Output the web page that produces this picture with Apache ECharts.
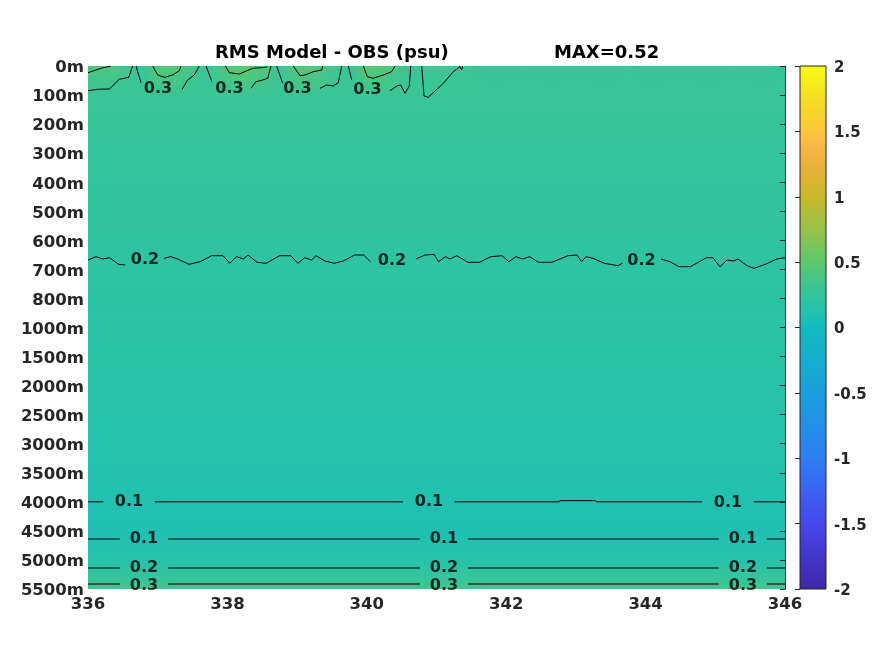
<!DOCTYPE html>
<html>
<head>
<meta charset="utf-8">
<script src="https://cdn.jsdelivr.net/npm/echarts@6/dist/echarts.min.js"></script>
<style>
html,body{margin:0;padding:0;background:#fff;}
#chart{width:875px;height:656px;}
</style>
</head>
<body>
<div id="chart"></div>
<script>
// ---------------- data ----------------
const depthLabels = ['0m','100m','200m','300m','400m','500m','600m','700m','800m','1000m',
  '1500m','2000m','2500m','3000m','3500m','4000m','4500m','5000m','5500m'];

// longitudes of the surface (0m) samples
const surfLon = [336,336.25,336.5,336.75,337,337.25,337.5,337.75,338,338.25,338.5,338.75,
  339,339.25,339.5,339.75,340,340.25,340.5,340.75,341,341.25,341.5,341.75,342,342.25,342.5,
  342.75,343,343.25,343.5,343.75,344,344.25,344.5,344.75,345,345.25,345.5,345.75,346];
// RMS at 0m along longitude (psu)
const rmsSurface = [0.38,0.40,0.35,0.27,0.44,0.45,0.34,0.27,0.44,0.50,0.43,0.27,
  0.45,0.44,0.34,0.27,0.47,0.44,0.34,0.27,0.33,0.31,0.28,0.27,0.27,0.28,0.27,
  0.27,0.28,0.27,0.27,0.28,0.27,0.27,0.28,0.27,0.27,0.28,0.27,0.27,0.28];
// RMS profile from 100m to 5500m (psu)
const rmsProfile = [0.29,0.275,0.26,0.245,0.232,0.218,0.195,0.182,0.172,0.162,
  0.152,0.142,0.132,0.118,0.100,0.085,0.13,0.34];

const colorbarTicks = [-2,-1.5,-1,-0.5,0,0.5,1,1.5,2];
const maxValue = 0.52;

// contour polylines: [lon, depth index]
const contour03Top = [
  [[336.0,0.231],[336.187,0.079],[336.330,0]],
  [[336.0,0.850],[336.139,0.802],[336.306,0.792],[336.449,0.458],[336.584,0.389],[336.641,0]],
  [[336.689,0],[336.760,0.575]],
  [[337.349,0.802],[337.430,0.482],[337.525,0.310],[337.597,0]],
  [[336.928,0],[337.0,0.310],[337.095,0.389],[337.215,0.310],[337.310,0.162],[337.334,0]],
  [[337.693,0],[337.779,0.540]],
  [[337.970,0],[338.027,0.231],[338.171,0.275],[338.363,0.079],[338.554,0.045],[338.578,0]],
  [[338.339,0.767],[338.410,0.540],[338.506,0.482],[338.578,0.423],[338.626,0]],
  [[338.707,0],[338.793,0.595]],
  [[338.945,0],[339.042,0.334],[339.113,0.310],[339.232,0.196],[339.353,0.138],[339.367,0]],
  [[339.329,0.767],[339.425,0.654],[339.519,0.688],[339.591,0.575],[339.640,0]],
  [[339.735,0],[339.783,0.482]],
  [[339.950,0],[340.007,0.368],[340.093,0.423],[340.237,0.310],[340.357,0.196],[340.405,0]],
  [[340.333,0.850],[340.429,0.688],[340.486,0.654],[340.548,0.940],[340.610,0.688],[340.630,0]],
  [[340.788,0],[340.821,1.032],[340.882,1.077],[341.098,0.595],[341.241,0.196],[341.337,0.024],[341.361,0.138],[341.376,0]]
];
const contour02Mid = [
  [[336.0,6.677],[336.115,6.563],[336.211,6.642],[336.308,6.598],[336.439,6.825],[336.537,6.849]],
  [[337.090,6.618],[337.188,6.563],[337.286,6.642],[337.449,6.825],[337.611,6.735],[337.773,6.529],
   [337.937,6.529],[338.034,6.790],[338.132,6.563],[338.230,6.642],[338.296,6.505],[338.425,6.756],
   [338.554,6.790],[338.750,6.529],[338.912,6.529],[339.011,6.790],[339.109,6.598],[339.207,6.677],
   [339.271,6.529],[339.400,6.711],[339.532,6.790],[339.663,6.711],[339.825,6.505],[339.956,6.505],
   [340.053,6.735]],
  [[340.706,6.642],[340.835,6.505],[340.964,6.481],[341.030,6.735],[341.128,6.563],[341.194,6.642],
   [341.291,6.529],[341.452,6.756],[341.617,6.756],[341.779,6.563],[341.940,6.529],[342.040,6.735],
   [342.138,6.563],[342.235,6.642],[342.333,6.563],[342.463,6.756],[342.657,6.756],[342.887,6.529],
   [343.016,6.505],[343.082,6.735],[343.145,6.563],[343.245,6.618],[343.407,6.790],[343.604,6.873],
   [343.667,6.790]],
  [[344.221,6.642],[344.350,6.735],[344.479,6.907],[344.644,6.907],[344.872,6.598],[344.967,6.598],
   [345.067,6.907],[345.168,6.677],[345.263,6.711],[345.326,6.642],[345.455,6.873],[345.555,6.963],
   [345.719,6.825],[345.882,6.642],[346.0,6.598]]
];
const contour01Upper = [
  [[336.0,15],[336.22,15]],
  [[336.96,15],[340.52,15]],
  [[341.26,15],[342.76,15],[342.77,14.96],[343.28,14.96],[343.30,15],[344.81,15]],
  [[345.55,15],[346.0,15]]
];
const contour01Lower = [
  [[336.0,16.279],[336.46,16.279]],[[337.15,16.279],[340.76,16.279]],
  [[341.45,16.279],[345.05,16.279]],[[345.74,16.279],[346.0,16.279]]
];
const contour02Deep = [
  [[336.0,17.277],[336.46,17.277]],[[337.15,17.277],[340.76,17.277]],
  [[341.45,17.277],[345.05,17.277]],[[345.74,17.277],[346.0,17.277]]
];
const contour03Deep = [
  [[336.0,17.828],[336.46,17.828]],[[337.15,17.828],[340.76,17.828]],
  [[341.45,17.828],[345.05,17.828]],[[345.74,17.828],[346.0,17.828]]
];
// contour labels: [lon, depth index, text]
const contourLabels = [
  [337.004,0.78,'0.3'],[338.030,0.78,'0.3'],[339.006,0.80,'0.3'],[340.010,0.83,'0.3'],
  [336.818,6.66,'0.2'],[340.362,6.70,'0.2'],[343.941,6.70,'0.2'],
  [336.588,15.0,'0.1'],[340.892,15.0,'0.1'],[345.182,15.02,'0.1'],
  [336.803,16.279,'0.1'],[341.108,16.279,'0.1'],[345.397,16.279,'0.1'],
  [336.803,17.277,'0.2'],[341.108,17.277,'0.2'],[345.397,17.277,'0.2'],
  [336.803,17.88,'0.3'],[341.108,17.88,'0.3'],[345.397,17.88,'0.3']
];

// ---------------- colormap (parula-like) ----------------
const parulaStops = [
  [-2,'#3e26a8'],[-1.5,'#4746eb'],[-1,'#2e7ef4'],[-0.5,'#1a9fdc'],[0,'#12bbc0'],
  [0.1,'#22c1b0'],[0.2,'#2ec4a2'],[0.3,'#3ac596'],[0.5,'#5dc86c'],[0.75,'#97c24a'],
  [1,'#c9b92a'],[1.25,'#ecb13c'],[1.4,'#fbb847'],[1.5,'#fdc63a'],[1.75,'#f3df22'],[2,'#f9fb15']
];
function hexRgb(h){return [parseInt(h.slice(1,3),16),parseInt(h.slice(3,5),16),parseInt(h.slice(5,7),16)];}
function cmap(v, a){
  if (a === undefined) a = 1;
  v = Math.max(-2, Math.min(2, v));
  for (let i=0;i<parulaStops.length-1;i++){
    const s0=parulaStops[i], s1=parulaStops[i+1];
    if (v>=s0[0] && v<=s1[0]){
      const t=(v-s0[0])/(s1[0]-s0[0]);
      const c0=hexRgb(s0[1]), c1=hexRgb(s1[1]);
      const c=c0.map((x,k)=>Math.round(x+(c1[k]-x)*t));
      return 'rgba('+c[0]+','+c[1]+','+c[2]+','+a+')';
    }
  }
  return 'rgba(0,0,0,'+a+')';
}

// field cells: [lon0, lon1, row0, row1, vTopLeft, vTopRight, vBottom]
const fieldCells = [];
for (let j=0;j<surfLon.length-1;j++){
  fieldCells.push([surfLon[j],surfLon[j+1],0,1,rmsSurface[j],rmsSurface[j+1],rmsProfile[0]]);
}
for (let i=1;i<depthLabels.length-1;i++){
  fieldCells.push([336,346,i,i+1,rmsProfile[i-1],rmsProfile[i-1],rmsProfile[i]]);
}

const FONT = 'DejaVu Sans';
const AXC = '#262626';

function contourSeries(segs){
  return {
    type:'lines', coordinateSystem:'cartesian2d', xAxisIndex:0, yAxisIndex:0,
    polyline:true, silent:true, z:3,
    lineStyle:{color:'#000', width:1, opacity:1},
    data: segs.map(s=>({coords:s}))
  };
}

const chart = echarts.init(document.getElementById('chart'), null, {renderer:'canvas'});
const option = {
  animation:false,
  backgroundColor:'#fff',
  title:[
    {text:'RMS Model - OBS (psu)', left:215, top:44, padding:0,
     textStyle:{fontFamily:FONT, fontSize:18, fontWeight:'bold', color:'#000'}},
    {text:'MAX='+maxValue.toFixed(2), left:554, top:44, padding:0,
     textStyle:{fontFamily:FONT, fontSize:18, fontWeight:'bold', color:'#000'}}
  ],
  grid:[
    {left:88, top:66, width:697, height:523},
    {left:800, top:66, width:26, height:523}
  ],
  xAxis:[
    {type:'value', gridIndex:0, min:336, max:346, interval:2,
     axisLine:{show:false}, axisTick:{show:false}, splitLine:{show:false},
     axisLabel:{fontFamily:FONT, fontSize:16.5, fontWeight:'bold', color:AXC, margin:7}},
    {type:'value', gridIndex:1, min:0, max:1, show:false}
  ],
  yAxis:[
    {type:'value', gridIndex:0, min:0, max:18, interval:1, inverse:true,
     axisLine:{show:false}, axisTick:{show:false}, splitLine:{show:false},
     axisLabel:{fontFamily:FONT, fontSize:16.5, fontWeight:'bold', color:AXC, margin:4,
       verticalAlign:'top', lineHeight:4, formatter:v=>depthLabels[Math.round(v)]}},
    {type:'value', gridIndex:0, min:0, max:18, interval:1, inverse:true, position:'right', z:10,
     axisLine:{show:true, lineStyle:{color:AXC, width:1}},
     axisTick:{show:true, inside:true, length:5, lineStyle:{color:AXC}},
     axisLabel:{show:false}, splitLine:{show:false}},
    {type:'value', gridIndex:1, min:-2, max:2, interval:0.5, position:'right', z:10,
     axisLine:{show:false},
     axisTick:{show:true, inside:true, length:5, lineStyle:{color:AXC}},
     axisLabel:{fontFamily:FONT, fontSize:15, fontWeight:'bold', color:AXC, margin:8,
       verticalAlign:'top', lineHeight:4, formatter:v=>String(v)},
     splitLine:{show:false}}
  ],
  series:[
    {
      type:'custom', xAxisIndex:0, yAxisIndex:0, clip:true, silent:true, z:1,
      data: fieldCells,
      renderItem:function(params, api){
        const x0=api.value(0), x1=api.value(1), r0=api.value(2), r1=api.value(3);
        const vL=api.value(4), vR=api.value(5), vB=api.value(6);
        const a=api.coord([x0,r0]), b=api.coord([x1,r1]);
        const shape={x:a[0], y:a[1], width:b[0]-a[0]+0.7, height:b[1]-a[1]+0.7};
        return {type:'group', children:[
          {type:'rect', shape:shape, style:{fill:new echarts.graphic.LinearGradient(0,0,1,0,
            [{offset:0,color:cmap(vL)},{offset:1,color:cmap(vR)}])}},
          {type:'rect', shape:shape, style:{fill:new echarts.graphic.LinearGradient(0,0,0,1,
            [{offset:0,color:cmap(vB,0)},{offset:1,color:cmap(vB,1)}])}}
        ]};
      }
    },
    contourSeries(contour03Top),
    contourSeries(contour02Mid),
    contourSeries(contour01Upper),
    contourSeries(contour01Lower),
    contourSeries(contour02Deep),
    contourSeries(contour03Deep),
    {
      type:'scatter', xAxisIndex:0, yAxisIndex:0, silent:true, z:4,
      symbol:'circle', symbolSize:1, itemStyle:{color:'rgba(0,0,0,0)'},
      data: contourLabels.map(d=>({name:d[2], value:[d[0],d[1]]})),
      label:{show:true, position:'inside', formatter:'{b}', fontFamily:FONT,
        fontSize:16, fontWeight:'bold', color:'#000'}
    },
    {
      type:'custom', xAxisIndex:1, yAxisIndex:2, silent:true, z:1,
      data:[[0,1,colorbarTicks[0],colorbarTicks[colorbarTicks.length-1]]],
      renderItem:function(params, api){
        const a=api.coord([api.value(0), api.value(3)]);
        const b=api.coord([api.value(1), api.value(2)]);
        const lo=api.value(2), hi=api.value(3);
        const stops=parulaStops.slice().reverse().map(s=>({offset:(hi-s[0])/(hi-lo), color:s[1]}));
        return {type:'rect', shape:{x:a[0], y:a[1], width:b[0]-a[0], height:b[1]-a[1]},
          style:{fill:new echarts.graphic.LinearGradient(0,0,0,1,stops), stroke:AXC, lineWidth:1}};
      }
    }
  ]
};
chart.setOption(option);
</script>
</body>
</html>
